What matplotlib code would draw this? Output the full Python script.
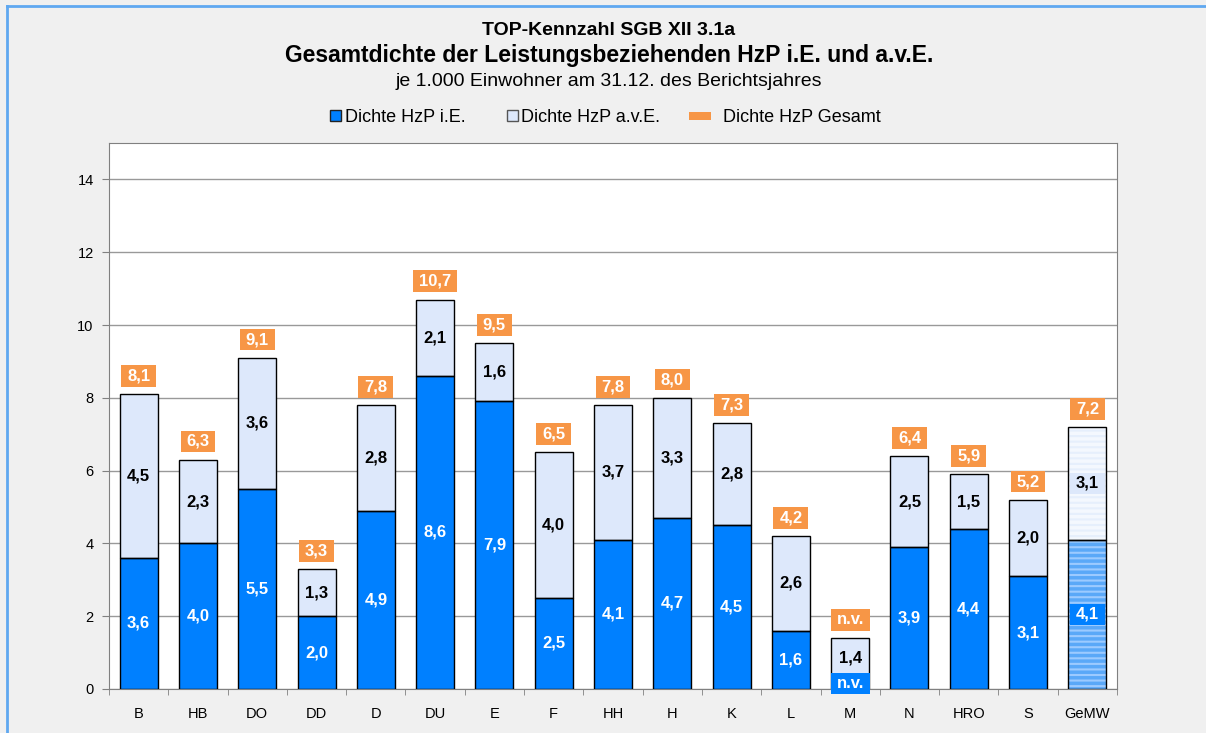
import numpy as np
import matplotlib.pyplot as plt
from matplotlib.patches import Rectangle
from matplotlib.lines import Line2D
from matplotlib.path import Path

# Daten
staedte = ['B', 'HB', 'DO', 'DD', 'D', 'DU', 'E', 'F', 'HH', 'H', 'K', 'L', 'M', 'N', 'HRO', 'S', 'GeMW']
dichte_ie = [3.6, 4.0, 5.5, 2.0, 4.9, 8.6, 7.9, 2.5, 4.1, 4.7, 4.5, 1.6, np.nan, 3.9, 4.4, 3.1, 4.1]
dichte_ave = [4.5, 2.3, 3.6, 1.3, 2.8, 2.1, 1.6, 4.0, 3.7, 3.3, 2.8, 2.6, 1.4, 2.5, 1.5, 2.0, 3.1]
dichte_gesamt = [8.1, 6.3, 9.1, 3.3, 7.8, 10.7, 9.5, 6.5, 7.8, 8.0, 7.3, 4.2, np.nan, 6.4, 5.9, 5.2, 7.2]

blau = '#0080ff'
hell = '#dde8fb'
orange = '#f79646'
grau_bg = '#f0f0f0'

plt.rcParams['font.family'] = ['Liberation Sans', 'DejaVu Sans']
plt.rcParams['hatch.linewidth'] = 1.5

W, H = 1206, 733
fig = plt.figure(figsize=(W / 100, H / 100), dpi=100, facecolor=grau_bg)
ax = fig.add_axes([109 / W, 1 - 689 / H, (1117 - 109) / W, (689 - 143) / H])
ax.set_facecolor('white')

x = np.arange(len(staedte))
breite = 0.64
ie = np.nan_to_num(np.array(dichte_ie))
ges = np.array(dichte_gesamt)
ave = np.array(dichte_ave)
# oberes Segment reicht bis zur Gesamtdichte (Rundung)
oben = np.where(np.isnan(ges), ie + ave, ges)
seg = oben - ie

n = len(staedte)
for i in range(n):
    if i == n - 1:
        # GeMW gestreift
        ax.bar(x[i], ie[i], breite, color='#5aa8f8', hatch='---', edgecolor='#9ccaff', linewidth=0, zorder=2)
        ax.bar(x[i], seg[i], breite, bottom=ie[i], color='#f4f8fe', hatch='---', edgecolor='#e6effc', linewidth=0, zorder=2)
    else:
        if ie[i] > 0:
            ax.bar(x[i], ie[i], breite, color=blau, linewidth=0, zorder=2)
        ax.bar(x[i], seg[i], breite, bottom=ie[i], color=hell, linewidth=0, zorder=2)
    # Rahmen der Segmente über den Beschriftungen
    if ie[i] > 0:
        ax.bar(x[i], ie[i], breite, fill=False, edgecolor='black', linewidth=1, zorder=4)
    ax.bar(x[i], seg[i], breite, bottom=ie[i], fill=False, edgecolor='black', linewidth=1, zorder=4)


def breite_box(x0, y0, width, height, mutation_size):
    # Rechteck mit mehr Rand links/rechts als oben/unten
    px = 0.35 * mutation_size
    py = 0.2 * mutation_size
    x0, y0 = x0 - px, y0 - py
    x1, y1 = x0 + width + 2 * px, y0 + height + 2 * py
    return Path([(x0, y0), (x1, y0), (x1, y1), (x0, y1), (x0, y0)], closed=True)


def fmt(v):
    return ('%.1f' % v).replace('.', ',')


lab = dict(ha='center', va='center', fontsize=12, fontweight='bold')
for i in range(n):
    # fehlender Wert: Beschriftungen liegen über dem Rahmen
    z = 5 if np.isnan(dichte_ie[i]) else 3
    # i.E.
    if np.isnan(dichte_ie[i]):
        ax.text(x[i], 0.15, 'n.v.', color='white', bbox=dict(boxstyle=breite_box, fc=blau, ec='none'),
                zorder=z, **lab)
    else:
        ax.text(x[i], ie[i] / 2, fmt(dichte_ie[i]), color='white',
                bbox=dict(boxstyle=breite_box, fc=blau, ec='none'), zorder=z, **lab)
    # a.v.E.
    ax.text(x[i], ie[i] + seg[i] / 2 + (0.15 if z == 5 else 0), fmt(dichte_ave[i]), color='black',
            bbox=dict(boxstyle=breite_box, fc=hell, ec='none'), zorder=z, **lab)
    # Gesamt
    txt = 'n.v.' if np.isnan(dichte_gesamt[i]) else fmt(dichte_gesamt[i])
    ax.text(x[i], oben[i] + 0.5, txt, color='white',
            bbox=dict(boxstyle=breite_box, fc=orange, ec='none'), zorder=5, **lab)

ax.set_xlim(-0.5, n - 0.5)
ax.set_ylim(0, 15)
ax.set_yticks(np.arange(0, 15, 2))
ax.set_xticks(x)
ax.set_xticklabels(staedte, fontsize=10.5)
ax.set_xticks(np.arange(-0.5, n, 1), minor=True)
ax.tick_params(axis='x', which='major', length=0, pad=13)
ax.tick_params(axis='x', which='minor', length=4, color='#808080')
ax.tick_params(axis='y', length=5, color='#808080', labelsize=10.5, pad=6)
ax.yaxis.grid(True, color='#999999', linewidth=1)
ax.set_axisbelow(True)
for s in ax.spines.values():
    s.set_color('#808080')

# Titel
xm = 609 / W
fig.text(xm, 1 - 35 / H, 'TOP-Kennzahl SGB XII 3.1a', ha='center', va='baseline', fontsize=14, fontweight='bold')
fig.text(xm, 1 - 62 / H, 'Gesamtdichte der Leistungsbeziehenden HzP i.E. und a.v.E.', ha='center',
         va='baseline', fontsize=16.5, fontweight='bold')
fig.text(xm, 1 - 86 / H, 'je 1.000 Einwohner am 31.12. des Berichtsjahres', ha='center', va='baseline', fontsize=14)

# Legende (von Hand gesetzt)
leg = [
    ('Dichte HzP i.E.', blau, '#222222', 330, 110, 11, 11, 345),
    ('Dichte HzP a.v.E.', hell, '#555555', 507, 110, 11, 11, 521),
    ('Dichte HzP Gesamt', orange, 'none', 689, 112, 22, 8, 723),
]
for text, fc, ec, lx, ly, lw, lh, tx in leg:
    fig.add_artist(Rectangle((lx / W, 1 - (ly + lh) / H), lw / W, lh / H, fc=fc, ec=ec, lw=1,
                             transform=fig.transFigure))
    fig.text(tx / W, 1 - 122 / H, text, ha='left', va='baseline', fontsize=13)

# Rahmen
fig.add_artist(Line2D([7 / W, 7 / W], [0, 1 - 6 / H], color='#5fa8f0', linewidth=2, transform=fig.transFigure))
fig.add_artist(Line2D([7 / W, 1], [1 - 6 / H, 1 - 6 / H], color='#5fa8f0', linewidth=2, transform=fig.transFigure))

fig.savefig('out.png', dpi=100, facecolor=grau_bg)
